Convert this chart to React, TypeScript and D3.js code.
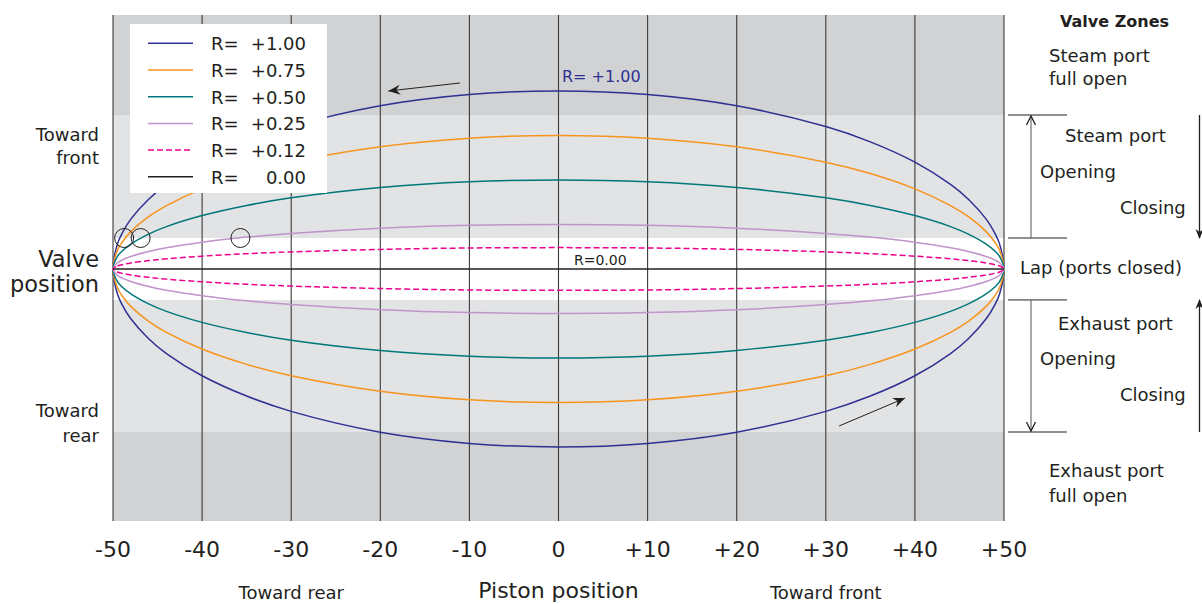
import React from "react";
import * as d3 from "d3";

// ---------- data ----------
const pistonPositions = [-50, -49.5, -49, -48, -46, -44, -40, -35, -30, -20, -10, 0, 10, 20, 30, 35, 40, 44, 46, 48, 49, 49.5, 50];
const valveR100 = [0, 0.141, 0.199, 0.28, 0.392, 0.475, 0.6, 0.714, 0.8, 0.917, 0.98, 1.0, 0.98, 0.917, 0.8, 0.714, 0.6, 0.475, 0.392, 0.28, 0.199, 0.141, 0];
const valveR075 = [0, 0.106, 0.149, 0.21, 0.294, 0.356, 0.45, 0.536, 0.6, 0.687, 0.735, 0.75, 0.735, 0.687, 0.6, 0.536, 0.45, 0.356, 0.294, 0.21, 0.149, 0.106, 0];
const valveR050 = [0, 0.071, 0.1, 0.14, 0.196, 0.238, 0.3, 0.357, 0.4, 0.458, 0.49, 0.5, 0.49, 0.458, 0.4, 0.357, 0.3, 0.238, 0.196, 0.14, 0.1, 0.071, 0];
const valveR025 = [0, 0.035, 0.05, 0.07, 0.098, 0.119, 0.15, 0.179, 0.2, 0.229, 0.245, 0.25, 0.245, 0.229, 0.2, 0.179, 0.15, 0.119, 0.098, 0.07, 0.05, 0.035, 0];
const valveR012 = [0, 0.017, 0.024, 0.034, 0.047, 0.057, 0.072, 0.086, 0.096, 0.11, 0.118, 0.12, 0.118, 0.11, 0.096, 0.086, 0.072, 0.057, 0.047, 0.034, 0.024, 0.017, 0];
const valveR000 = [0, 0, 0, 0, 0, 0, 0, 0, 0, 0, 0, 0, 0, 0, 0, 0, 0, 0, 0, 0, 0, 0, 0];

const seriesValues = [valveR100, valveR075, valveR050, valveR025, valveR012, valveR000];
const seriesNames = ["R=", "R=", "R=", "R=", "R=", "R="];
const seriesValueLabels = ["+1.00", "+0.75", "+0.50", "+0.25", "+0.12", "0.00"];
const seriesColors = ["#2e3192", "#f7941d", "#00777a", "#c093cb", "#ec008c", "#231f20"];
const seriesDash = ["", "", "", "", "6,3", ""];

const xTicks = [-50, -40, -30, -20, -10, 0, 10, 20, 30, 40, 50];
const xTickLabels = ["-50", "-40", "-30", "-20", "-10", "0", "+10", "+20", "+30", "+40", "+50"];

// valve-zone boundaries (valve position units)
const steamFullOpen = 0.865;
const lapHalf = 0.174;
const exhaustFullOpen = -0.916;

// lap-crossing markers
const crossingPiston = [-48.75, -46.9, -35.7];

const FONT = "'DejaVu Sans', sans-serif";

function arrowHead(x1: number, y1: number, x2: number, y2: number, len: number, half: number, back: number) {
  const a = Math.atan2(y2 - y1, x2 - x1);
  const c = Math.cos(a), s = Math.sin(a);
  const p = (dx: number, dy: number) => [x2 + dx * c - dy * s, y2 + dx * s + dy * c];
  const l = p(-len, -half), r = p(-len, half), m = p(-len + back, 0);
  return `M${x2},${y2}L${l[0]},${l[1]}L${m[0]},${m[1]}L${r[0]},${r[1]}Z`;
}
function chevron(x1: number, y1: number, x2: number, y2: number, len: number, half: number) {
  const a = Math.atan2(y2 - y1, x2 - x1);
  const c = Math.cos(a), s = Math.sin(a);
  const p = (dx: number, dy: number) => [x2 + dx * c - dy * s, y2 + dx * s + dy * c];
  const l = p(-len, -half), r = p(-len, half);
  return `M${l[0]},${l[1]}L${x2},${y2}L${r[0]},${r[1]}`;
}

export default function App() {
  const W = 1202, H = 604;
  const x = d3.scaleLinear().domain([-50, 50]).range([113, 1004]);
  const y = d3.scaleLinear().domain([-1.416, 1.427]).range([521, 15]);
  const top = y(1.427), bottom = y(-1.416);

  const loop = d3
    .line<[number, number]>()
    .x((d) => x(d[0]))
    .y((d) => y(d[1]))
    .curve(d3.curveCatmullRomClosed.alpha(0.5));

  const straight = d3
    .line<[number, number]>()
    .x((d) => x(d[0]))
    .y((d) => y(d[1]));

  const curvePath = (vals: number[]) => {
    const upper: [number, number][] = pistonPositions.map((p, i) => [p, vals[i]]);
    const lower: [number, number][] = pistonPositions
      .map((p, i) => [p, -vals[i]] as [number, number])
      .slice(1, -1)
      .reverse();
    return loop(upper.concat(lower)) as string;
  };

  // arrows along the R=1 curve
  const a1 = { x1: x(-11.05), y1: y(1.045), x2: x(-19.1), y2: y(1.0) };
  const a2 = { x1: x(31.5), y1: y(-0.882), x2: x(38.9), y2: y(-0.725) };

  const legendRows = seriesValues.map((_, i) => 43.3 + i * 26.7);

  const yS = y(steamFullOpen), yL1 = y(lapHalf), yL2 = y(-lapHalf), yE = y(exhaustFullOpen);

  return (
    <svg width={W} height={H} style={{ position: "absolute", left: 0, top: 0, background: "#fff" }} fontFamily={FONT}>
      {/* zones */}
      <rect x={x(-50)} y={top} width={x(50) - x(-50)} height={yS - top} fill="#d1d2d4" />
      <rect x={x(-50)} y={yS} width={x(50) - x(-50)} height={yL1 - yS} fill="#e2e3e5" />
      <rect x={x(-50)} y={yL2} width={x(50) - x(-50)} height={yE - yL2} fill="#e2e3e5" />
      <rect x={x(-50)} y={yE} width={x(50) - x(-50)} height={bottom - yE} fill="#d1d2d4" />

      {/* grid */}
      {xTicks.map((t) => (
        <line key={t} x1={x(t)} x2={x(t)} y1={top} y2={bottom} stroke="#3a3a3a" strokeWidth={1.1} />
      ))}

      {/* curves */}
      {seriesValues.slice(0, 5).map((vals, i) => (
        <path
          key={i}
          d={curvePath(vals)}
          fill="none"
          stroke={seriesColors[i]}
          strokeWidth={1.5}
          strokeDasharray={seriesDash[i] || undefined}
        />
      ))}
      <path
        d={straight(pistonPositions.map((p, i) => [p, valveR000[i]] as [number, number])) as string}
        fill="none"
        stroke={seriesColors[5]}
        strokeWidth={1.5}
      />

      {/* crossing circles */}
      {crossingPiston.map((p, i) => (
        <circle key={i} cx={x(p)} cy={y(lapHalf)} r={9.5} fill="none" stroke="#231f20" strokeWidth={1} />
      ))}

      {/* direction arrows */}
      {[a1, a2].map((a, i) => (
        <g key={i}>
          <line x1={a.x1} y1={a.y1} x2={a.x2} y2={a.y2} stroke="#231f20" strokeWidth={1} />
          <path d={arrowHead(a.x1, a.y1, a.x2, a.y2, 12, 5, 4)} fill="#231f20" />
        </g>
      ))}

      {/* curve labels */}
      <text x={562} y={82} fontSize={16} fill="#2e3192">R= +1.00</text>
      <text x={574} y={265} fontSize={14} fill="#231f20">R=0.00</text>

      {/* legend */}
      <rect x={130} y={24} width={197} height={169} fill="#fff" />
      {legendRows.map((ry, i) => (
        <g key={i}>
          <line x1={148} x2={193} y1={ry} y2={ry} stroke={seriesColors[i]} strokeWidth={1.5} strokeDasharray={seriesDash[i] || undefined} />
          <text x={211} y={ry + 6.8} fontSize={18} fill="#231f20">{seriesNames[i]}</text>
          <text x={306} y={ry + 6.8} fontSize={18} fill="#231f20" textAnchor="end">{seriesValueLabels[i]}</text>
        </g>
      ))}

      {/* x tick labels */}
      {xTicks.map((t, i) => (
        <text key={t} x={x(t)} y={557} fontSize={22} textAnchor="middle" fill="#231f20">{xTickLabels[i]}</text>
      ))}
      <text x={x(-30)} y={599} fontSize={18} textAnchor="middle" fill="#231f20">Toward rear</text>
      <text x={x(0)} y={598} fontSize={22} textAnchor="middle" fill="#231f20">Piston position</text>
      <text x={x(30)} y={599} fontSize={18} textAnchor="middle" fill="#231f20">Toward front</text>

      {/* left labels */}
      <g fill="#231f20" textAnchor="end">
        <text x={99} y={141} fontSize={18}>Toward</text>
        <text x={99} y={164} fontSize={18}>front</text>
        <text x={99} y={267} fontSize={22.5}>Valve</text>
        <text x={99} y={292} fontSize={22.5}>position</text>
        <text x={99} y={417} fontSize={18}>Toward</text>
        <text x={99} y={442} fontSize={18}>rear</text>
      </g>

      {/* right side valve zones */}
      <g fill="#231f20" fontSize={18}>
        <text x={1060} y={27} fontSize={16} fontWeight="bold">Valve Zones</text>
        <text x={1049} y={62}>Steam port</text>
        <text x={1049} y={85}>full open</text>
        <text x={1065} y={142}>Steam port</text>
        <text x={1040} y={178}>Opening</text>
        <text x={1120} y={214}>Closing</text>
        <text x={1020} y={274}>Lap (ports closed)</text>
        <text x={1058} y={330}>Exhaust port</text>
        <text x={1040} y={365}>Opening</text>
        <text x={1120} y={401}>Closing</text>
        <text x={1049} y={477}>Exhaust port</text>
        <text x={1049} y={502}>full open</text>
      </g>
      {[yS, yL1, yL2, yE].map((yy, i) => (
        <line key={i} x1={1008} x2={1067} y1={yy} y2={yy} stroke="#231f20" strokeWidth={1} />
      ))}
      {/* gray opening arrows */}
      <line x1={1031} x2={1031} y1={yL1} y2={yS + 1} stroke="#6d6e71" strokeWidth={1.2} />
      <path d={chevron(1031, yL1, 1031, yS + 1, 9, 4.5)} fill="none" stroke="#231f20" strokeWidth={1.3} />
      <line x1={1031} x2={1031} y1={yL2} y2={yE - 1} stroke="#6d6e71" strokeWidth={1.2} />
      <path d={chevron(1031, yL2, 1031, yE - 1, 9, 4.5)} fill="none" stroke="#231f20" strokeWidth={1.3} />
      {/* black closing arrows */}
      <line x1={1199.5} x2={1199.5} y1={yS} y2={yL1} stroke="#231f20" strokeWidth={1.3} />
      <path d={arrowHead(1199.5, yS, 1199.5, yL1 + 1, 10, 4, 3)} fill="#231f20" />
      <line x1={1199.5} x2={1199.5} y1={yE} y2={yL2} stroke="#231f20" strokeWidth={1.3} />
      <path d={arrowHead(1199.5, yE, 1199.5, yL2 - 1, 10, 4, 3)} fill="#231f20" />
    </svg>
  );
}
